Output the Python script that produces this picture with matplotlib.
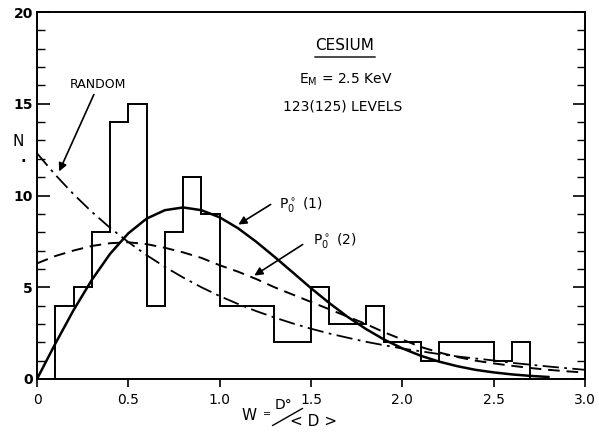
import numpy as np
import matplotlib
matplotlib.use("Agg")
import matplotlib.pyplot as plt
from matplotlib.ticker import MultipleLocator

# level spacing histogram, bins of 0.1 starting at W = 0.1
bin_edges = [round(0.1 * i, 1) for i in range(1, 28)]
counts = [4, 5, 8, 14, 15, 4, 8, 11, 9, 4, 4, 4, 2, 2, 5, 3, 3, 4, 2, 2, 1, 2, 2, 2, 1, 2]

# theoretical curves, sampled every 0.1 in W
w_grid = [round(0.1 * i, 1) for i in range(31)]
random_n = [12.3, 11.13, 10.07, 9.11, 8.24, 7.46, 6.75, 6.11, 5.53, 5.00, 4.52,
            4.09, 3.70, 3.35, 3.03, 2.74, 2.48, 2.25, 2.03, 1.84, 1.66,
            1.51, 1.36, 1.23, 1.12, 1.01, 0.88, 0.78, 0.68, 0.59, 0.50]
p1_n = [0.0, 1.92, 3.75, 5.40, 6.82, 7.94, 8.74, 9.20, 9.35, 9.20, 8.81,
        8.22, 7.48, 6.66, 5.81, 4.95, 4.14, 3.39, 2.73, 2.15, 1.67,
        1.27, 0.95, 0.70, 0.50, 0.36, 0.25, 0.17, 0.11]
p2_n = [6.3, 6.7, 7.0, 7.25, 7.4, 7.45, 7.35, 7.15, 6.9, 6.6, 6.2,
        5.85, 5.45, 5.0, 4.6, 4.2, 3.8, 3.4, 3.0, 2.55, 2.15,
        1.75, 1.45, 1.2, 1.0, 0.85, 0.72, 0.6, 0.5, 0.42, 0.35]

x_ticks = [0, 0.5, 1.0, 1.5, 2.0, 2.5, 3.0]
x_labels = ["0", "0.5", "1.0", "1.5", "2.0", "2.5", "3.0"]
y_ticks = [0, 5, 10, 15, 20]

plt.rcParams['font.family'] = ['DejaVu Sans']
fig = plt.figure(figsize=(5.99, 4.33), dpi=100)
ax = fig.add_axes([37 / 599, 54 / 433, 548 / 599, 367 / 433])

ax.stairs(counts, bin_edges, baseline=0, color="black", lw=1.4)
ax.plot(w_grid, random_n, color="black", lw=1.3, linestyle=(0, (9, 3, 1.5, 3)))
ax.plot(w_grid[:len(p1_n)], p1_n, color="black", lw=1.8)
ax.plot(w_grid, p2_n, color="black", lw=1.4, linestyle=(0, (6, 3.5)))

ax.set_xlim(0, 3.0)
ax.set_ylim(0, 20)
ax.set_xticks(x_ticks)
ax.set_xticklabels(x_labels, fontsize=10)
ax.set_yticks(y_ticks)
ax.set_yticklabels([str(v) for v in y_ticks], fontsize=10, fontweight="bold")
ax.yaxis.set_minor_locator(MultipleLocator(1))
ax.tick_params(axis="x", direction="out", length=6, width=1.2, pad=4)
ax.tick_params(axis="y", which="major", direction="in", length=9, width=1.2,
               left=True, right=True, pad=3)
ax.tick_params(axis="y", which="minor", direction="in", length=6, width=1.0,
               left=True, right=True)
for s in ax.spines.values():
    s.set_linewidth(1.4)

# annotations, placed in figure pixels
fp = "figure pixels"
H = 433
txt = dict(xycoords=fp, fontsize=10, color="black")
ax.annotate("CESIUM", xy=(345, H - 45), ha="center", va="center", fontsize=11, xycoords=fp)
ax.annotate("", xy=(312, H - 57), xytext=(378, H - 57), xycoords=fp, textcoords=fp,
            arrowprops=dict(arrowstyle="-", lw=1.0, color="black"))
ax.annotate(r"E$_\mathregular{M}$ = 2.5 KeV", xy=(346, H - 80), ha="center", va="center", **txt)
ax.annotate("123(125) LEVELS", xy=(343, H - 107), ha="center", va="center", **txt)

ax.annotate("RANDOM", xy=(58, H - 174), xytext=(70, H - 84), xycoords=fp, textcoords=fp,
            fontsize=9, ha="left", va="center")
ax.annotate("", xy=(58, H - 174), xytext=(95, H - 92), xycoords=fp, textcoords=fp,
            arrowprops=dict(arrowstyle="-|>", lw=1.2, color="black", mutation_scale=12))

ax.annotate(r"P$^\circ_\mathregular{0}$ (1)", xy=(279, H - 204), ha="left", va="center", **txt)
ax.annotate("", xy=(236, H - 226), xytext=(273, H - 203), xycoords=fp, textcoords=fp,
            arrowprops=dict(arrowstyle="-|>", lw=1.2, color="black", mutation_scale=12))
ax.annotate(r"P$^\circ_\mathregular{0}$ (2)", xy=(313, H - 241), ha="left", va="center", **txt)
ax.annotate("", xy=(252, H - 277), xytext=(305, H - 243), xycoords=fp, textcoords=fp,
            arrowprops=dict(arrowstyle="-|>", lw=1.2, color="black", mutation_scale=12))

# axis titles
ax.annotate("N", xy=(18, H - 141), ha="center", va="center", fontsize=11, xycoords=fp)
ax.annotate(".", xy=(23, H - 158), ha="center", va="center", fontsize=11, xycoords=fp,
            fontweight="bold")
ax.annotate("W", xy=(249, H - 416), ha="center", va="center", fontsize=11, xycoords=fp)
ax.annotate("=", xy=(267, H - 414), ha="center", va="center", fontsize=7, xycoords=fp)
ax.annotate("D°", xy=(284, H - 405), ha="center", va="center", fontsize=10, xycoords=fp)
ax.annotate("", xy=(270, H - 427), xytext=(305, H - 407), xycoords=fp, textcoords=fp,
            arrowprops=dict(arrowstyle="-", lw=1.0, color="black"))
ax.annotate("< D >", xy=(313, H - 422), ha="center", va="center", fontsize=11, xycoords=fp)

fig.savefig("out.png", dpi=100)
